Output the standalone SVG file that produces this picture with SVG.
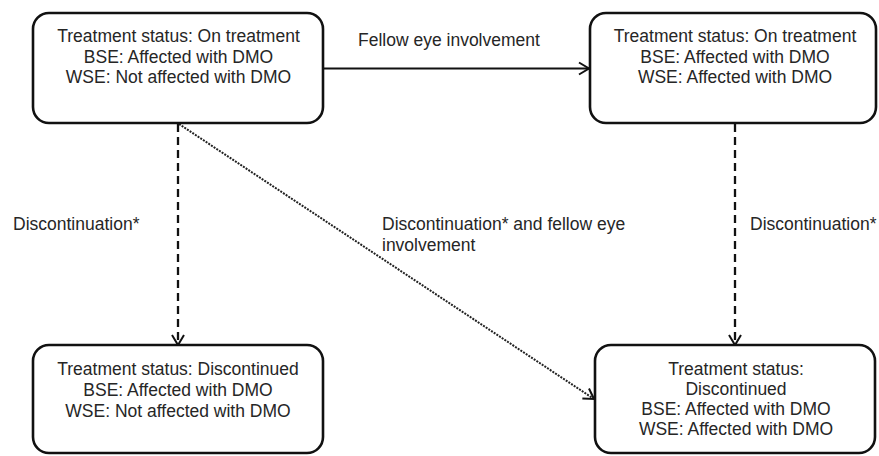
<svg xmlns="http://www.w3.org/2000/svg" width="879" height="456" viewBox="0 0 879 456">
<style>
.box{fill:#fff;stroke:#111;stroke-width:2.6}
.t{font-family:"Liberation Sans",Arial,sans-serif;font-size:17.5px;fill:#262626}
.c{text-anchor:middle}
.solid{stroke:#111;stroke-width:2;fill:none}
.dash{stroke:#111;stroke-width:2.3;fill:none;stroke-dasharray:8 5}
.dot{stroke:#222;stroke-width:2;fill:none;stroke-dasharray:2 1.2}
</style>
<defs>
<marker id="arr" markerUnits="userSpaceOnUse" markerWidth="14" markerHeight="16" viewBox="-12 -8 14 16" refX="0" refY="0" orient="auto">
<path d="M-10,-6 L0,0 L-10,6" fill="none" stroke="#111" stroke-width="2"/>
</marker>
</defs>
<rect width="879" height="456" fill="#fff"/>
<g id="connectors">
<line class="solid" x1="323" y1="68.5" x2="589" y2="68.5" marker-end="url(#arr)"/>
<line class="dash" x1="178" y1="124" x2="178" y2="345" marker-end="url(#arr)"/>
<line class="dash" x1="735" y1="124" x2="735" y2="345" marker-end="url(#arr)"/>
<line class="dot" x1="179" y1="124" x2="594" y2="399" marker-end="url(#arr)"/>
<text class="t" x="358" y="46">Fellow eye involvement</text>
<text class="t" x="13" y="230">Discontinuation*</text>
<text class="t" x="382" y="230">Discontinuation* and fellow eye</text>
<text class="t" x="382" y="251">involvement</text>
<text class="t" x="750" y="230">Discontinuation*</text>
</g>
<g id="n1">
<rect class="box" x="33" y="13" width="290" height="110" rx="16"/>
<text class="t c" x="178.5" y="42">Treatment status: On treatment</text>
<text class="t c" x="178.5" y="62.5">BSE: Affected with DMO</text>
<text class="t c" x="178.5" y="83">WSE: Not affected with DMO</text>
</g>
<g id="n2">
<rect class="box" x="590" y="13" width="286" height="110" rx="16"/>
<text class="t c" x="735" y="42">Treatment status: On treatment</text>
<text class="t c" x="735" y="62.5">BSE: Affected with DMO</text>
<text class="t c" x="735" y="83">WSE: Affected with DMO</text>
</g>
<g id="n3">
<rect class="box" x="33" y="345" width="290" height="108" rx="16"/>
<text class="t c" x="178" y="375">Treatment status: Discontinued</text>
<text class="t c" x="178" y="396">BSE: Affected with DMO</text>
<text class="t c" x="178" y="417">WSE: Not affected with DMO</text>
</g>
<g id="n4">
<rect class="box" x="595" y="345" width="280" height="108" rx="16"/>
<text class="t c" x="736" y="375">Treatment status:</text>
<text class="t c" x="736" y="395">Discontinued</text>
<text class="t c" x="736" y="415">BSE: Affected with DMO</text>
<text class="t c" x="736" y="435">WSE: Affected with DMO</text>
</g>
</svg>
